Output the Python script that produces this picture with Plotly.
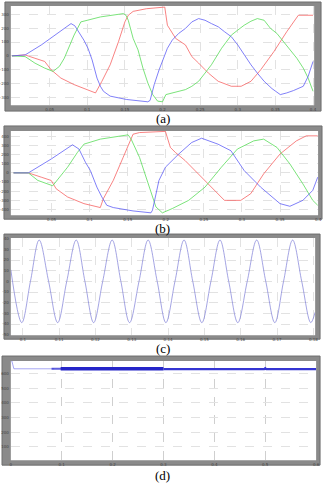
import plotly.graph_objects as go

# ---------------- data (in grid-division units) ----------------
# Panel (a)
a_blue_x = [0, 0.35, 0.78, 1.22, 1.57, 1.67, 1.78, 1.91, 2.02, 2.13, 2.26, 2.35, 2.43, 2.61, 3.04, 3.61,
            3.67, 3.78, 3.91, 4.0, 4.13, 4.26, 4.43, 4.61, 4.78, 4.96, 5.13, 5.3, 5.48, 5.65, 5.83, 6.0,
            6.17, 6.35, 6.52, 6.7, 6.91, 7.13, 7.3, 7.48, 7.74, 7.87, 8.0]
a_blue_y = [0, 0.07, 0.79, 1.62, 2.33, 2.17, 1.74, 1.14, 0.55, -0.29, -1.6, -2.19, -2.55, -2.9, -3.14, -3.31,
            -3.21, -2.07, -1.0, -0.4, 0.55, 1.14, 1.62, 1.98, 2.45, 2.69, 2.57, 2.33, 2.1, 1.74, 1.38, 0.79,
            0.07, -0.64, -1.24, -1.83, -2.36, -2.79, -2.67, -2.5, -2.19, -1.48, -0.4]
a_green_x = [0, 0.35, 0.61, 0.87, 1.09, 1.26, 1.39, 1.52, 1.65, 1.83, 2.35, 2.96, 3.03, 3.09, 3.22, 3.35,
             3.48, 3.61, 3.74, 3.87, 4.0, 4.09, 4.35, 4.61, 4.78, 4.96, 5.13, 5.3, 5.57, 5.83, 6.0, 6.17,
             6.35, 6.52, 6.7, 6.87, 7.04, 7.22, 7.39, 7.57, 7.74, 7.87, 8.0]
a_green_y = [0, -0.05, -0.52, -0.88, -1.12, -0.76, -0.17, 0.67, 1.5, 2.45, 2.81, 3.05, 2.93, 2.57, 1.26, 0.43,
             -0.88, -1.95, -2.79, -3.26, -3.31, -2.79, -2.6, -2.43, -2.19, -1.83, -1.24, -0.64, 0.55, 1.5, 1.86, 2.21,
             2.5, 2.69, 2.57, 1.98, 1.62, 1.02, 0.43, -0.17, -0.88, -1.6, -2.55]
a_red_x = [0, 0.35, 0.61, 0.87, 1.04, 1.3, 1.65, 2.22, 2.39, 2.61, 2.83, 3.0, 3.09, 3.22, 3.57, 4.0, 4.06,
           4.13, 4.22, 4.35, 4.61, 4.78, 4.96, 5.22, 5.48, 5.83, 6.09, 6.35, 6.61, 6.96, 7.3, 7.61, 8.0]
a_red_y = [0, 0.07, -0.17, -0.4, -1.0, -1.6, -2.07, -2.67, -1.83, -0.64, 1.02, 2.45, 2.93, 3.21, 3.4, 3.52, 3.52,
           2.21, 1.86, 1.26, 0.79, -0.05, -0.52, -1.24, -1.83, -2.19, -2.19, -1.83, -1.0, 0.31, 1.74, 2.93, 2.93]

# Panel (b)
b_blue_x = [0, 0.39, 0.99, 1.55, 1.72, 1.89, 2.02, 2.19, 2.32, 2.45, 2.62, 3.14, 3.61, 3.65, 3.82, 3.99,
            4.34, 4.68, 4.94, 5.37, 5.71, 6.06, 6.49, 7.0, 7.26, 7.6, 7.86, 7.99]
b_blue_y = [0, 0, 1.52, 3.08, 2.61, 1.16, 0.25, -1.56, -2.64, -3.55, -3.8, -4.17, -4.38, -4.09, -0.83, 0.62,
            2.07, 3.33, 3.8, 3.15, 2.43, 0.25, -1.56, -3.37, -3.66, -3.01, -1.92, -0.47]
b_green_x = [0, 0.39, 0.64, 1.03, 1.42, 1.68, 1.85, 2.28, 3.01, 3.09, 3.31, 3.57, 3.74, 3.91, 4.17, 4.6,
             5.03, 5.46, 5.88, 6.31, 6.57, 6.92, 7.26, 7.6, 7.86, 7.99]
b_green_y = [0, 0, -0.83, -1.41, 0.62, 2.25, 3.15, 3.7, 4.17, 3.7, 1.7, -1.56, -3.73, -4.38, -3.91, -3.01,
             -1.56, 0.62, 2.61, 3.51, 3.7, 2.79, 0.98, -1.2, -3.01, -3.55]
b_red_x = [0, 0.39, 0.73, 0.99, 1.12, 1.42, 1.85, 2.28, 2.36, 2.62, 2.88, 3.14, 3.31, 3.91, 3.99, 4.12,
           4.25, 4.51, 4.85, 5.2, 5.54, 5.97, 6.23, 6.57, 7.0, 7.43, 7.69, 7.99]
b_red_y = [0, 0, -0.47, -0.83, -1.74, -2.64, -3.37, -3.8, -2.83, -0.83, 1.7, 4.24, 4.42, 4.55, 4.55, 2.79,
           2.25, 1.34, -0.11, -1.56, -3.01, -3.01, -2.28, -0.11, 2.07, 3.51, 4.06, 4.06]

# Panel (c): peaks, zero crossings and troughs of the waveform
c_x = [-0.33, -0.03, 0.21, 0.45, 0.71, 0.96, 1.21, 1.47, 1.71, 1.95, 2.2, 2.46, 2.7, 2.94, 3.2, 3.45,
       3.7, 3.94, 4.19, 4.44, 4.68, 4.93, 5.18, 5.43, 5.67, 5.92, 6.18, 6.44, 6.69, 6.94, 7.18, 7.43,
       7.68, 7.93, 8.05]
c_y = [1.08, -3.87, 0, 3.87, 0, -3.87, 0, 3.87, 0, -3.87, 0, 3.87, 0, -3.87, 0, 3.87,
       0, -3.87, 0, 3.87, 0, -3.87, 0, 3.87, 0, -3.87, 0, 3.87, 0, -3.87, 0, 3.87,
       0, -3.87, -2.9]

# Panel (d)
d_start_x = [0.0, 0.02, 0.06, 0.85]
d_start_y = [6.9, 6.85, 6.32, 6.32]
d_ramp_x = [0.8, 1.0]
d_ramp_y = [6.32, 6.32]
d_mid_x = [0.98, 3.0]
d_mid_y = [6.32, 6.32]
d_end_x = [3.0, 4.98, 5.0, 5.02, 6.0]
d_end_y = [6.3, 6.3, 6.36, 6.3, 6.3]

# tick labels (too small to read in the reference; placeholders)
ab_xticks = [1, 2, 3, 4, 5, 6, 7, 8]
ab_xtext = ["0.05", "0.1", "0.15", "0.2", "0.25", "0.3", "0.35", "0.4"]
a_yticks = [-3, -2, -1, 0, 1, 2, 3]
a_ytext = ["-300", "-200", "-100", "0", "100", "200", "300"]
b_yticks = [-4, -3, -2, -1, 0, 1, 2, 3, 4]
b_ytext = ["-400", "-300", "-200", "-100", "0", "100", "200", "300", "400"]
c_xticks = [0, 1, 2, 3, 4, 5, 6, 7, 8]
c_xtext = ["0.1", "0.11", "0.12", "0.13", "0.14", "0.15", "0.16", "0.17", "0.18"]
c_yticks = [-5, -4, -3, -2, -1, 0, 1, 2, 3, 4]
c_ytext = ["-50", "-40", "-30", "-20", "-10", "0", "10", "20", "30", "40"]
d_xticks = [0, 1, 2, 3, 4, 5, 6]
d_xtext = ["0", "0.1", "0.2", "0.3", "0.4", "0.5", "0.6"]
d_yticks = [1, 2, 3, 4, 5, 6]
d_ytext = ["100", "200", "300", "400", "500", "600"]
captions = ["(a)", "(b)", "(c)", "(d)"]

# ---------------- layout geometry (pixels) ----------------
W, H = 327, 483
BLUE = "rgba(85,85,245,0.75)"
GREEN = "rgba(90,220,90,0.8)"
RED = "rgba(245,90,90,0.75)"

panels = [
    dict(plot=(9, 318, 4, 104), frame=(3, 325, 0, 110), cap=117),
    dict(plot=(9, 322, 130, 215), frame=(2, 326, 125, 219), cap=228),
    dict(plot=(9, 319, 238, 336), frame=(2, 324, 234, 340), cap=349),
    dict(plot=(9, 320, 362, 462), frame=(0, 324, 357, 467), cap=477),
]


def px(x):
    return x / W


def py(y):
    return 1 - y / H


fig = go.Figure()


def add(x, y, color, idx, width=1.0, shape="linear"):
    fig.add_trace(go.Scatter(x=x, y=y, mode="lines",
                             line=dict(color=color, width=width, shape=shape),
                             xaxis="x" if idx == 1 else f"x{idx}",
                             yaxis="y" if idx == 1 else f"y{idx}",
                             showlegend=False, hoverinfo="skip"))


add(a_red_x, a_red_y, RED, 1)
add(a_green_x, a_green_y, GREEN, 1)
add(a_blue_x, a_blue_y, BLUE, 1)
add(b_red_x, b_red_y, RED, 2)
add(b_green_x, b_green_y, GREEN, 2)
add(b_blue_x, b_blue_y, BLUE, 2)
add(c_x, c_y, "rgba(125,125,215,0.7)", 3, 1.0, "spline")
add(d_start_x, d_start_y, "rgba(110,110,235,0.6)", 4, 1.0)
add(d_ramp_x, d_ramp_y, "rgba(40,40,210,0.75)", 4, 2.0)
add(d_mid_x, d_mid_y, "#2525c8", 4, 3.5)
add(d_end_x, d_end_y, "#3535d2", 4, 2.2)

tickfont = dict(size=4, color="#444444", family="DejaVu Sans")
grid = dict(showgrid=True, gridcolor="#e2e2e2", griddash="dash", gridwidth=1,
            zeroline=False, showline=False, ticks="", tickfont=tickfont, ticklabelstandoff=1)

axes_cfg = [
    (dict(range=[-0.03, 8.03], tickvals=ab_xticks, ticktext=ab_xtext),
     dict(range=[-3.55, 3.6], tickvals=a_yticks, ticktext=a_ytext)),
    (dict(range=[-0.07, 8.0], tickvals=ab_xticks, ticktext=ab_xtext),
     dict(range=[-4.64, 4.6], tickvals=b_yticks, ticktext=b_ytext)),
    (dict(range=[-0.33, 8.05], tickvals=c_xticks, ticktext=c_xtext),
     dict(range=[-5.05, 4.06], tickvals=c_yticks, ticktext=c_ytext)),
    (dict(range=[0, 6], tickvals=d_xticks, ticktext=d_xtext),
     dict(range=[0.1, 6.85], tickvals=d_yticks, ticktext=d_ytext)),
]

layout = dict(width=W, height=H, margin=dict(l=0, r=0, t=0, b=0),
              paper_bgcolor="white", plot_bgcolor="white", showlegend=False)
shapes = []
annotations = []
for i, (p, (xa, ya)) in enumerate(zip(panels, axes_cfg), start=1):
    x0, x1, y0, y1 = p["plot"]
    fx0, fx1, fy0, fy1 = p["frame"]
    xk = "xaxis" if i == 1 else f"xaxis{i}"
    yk = "yaxis" if i == 1 else f"yaxis{i}"
    anchor_x = "y" if i == 1 else f"y{i}"
    anchor_y = "x" if i == 1 else f"x{i}"
    gx = dict(grid)
    if i == 4:
        gx["gridcolor"] = "#cfcfcf"
    layout[xk] = dict(domain=[px(x0), px(x1)], anchor=anchor_x, **xa, **gx)
    layout[yk] = dict(domain=[py(y1), py(y0)], anchor=anchor_y, **ya, **grid)
    shapes.append(dict(type="rect", xref="paper", yref="paper", layer="below",
                       x0=px(fx0), x1=px(fx1), y0=py(fy1), y1=py(fy0),
                       fillcolor="#8a8a8a", line=dict(color="#6e6e6e", width=1)))
    shapes.append(dict(type="rect", xref="paper", yref="paper", layer="below",
                       x0=px(x0), x1=px(x1), y0=py(y1), y1=py(y0),
                       fillcolor="white", line=dict(width=0)))
    annotations.append(dict(text=captions[i - 1], xref="paper", yref="paper",
                            x=px(163.5), y=py(p["cap"]), showarrow=False,
                            xanchor="center", yanchor="middle",
                            font=dict(family="Liberation Serif", size=13, color="black")))

layout["shapes"] = shapes
layout["annotations"] = annotations
fig.update_layout(**layout)
fig.write_html("out.html")
